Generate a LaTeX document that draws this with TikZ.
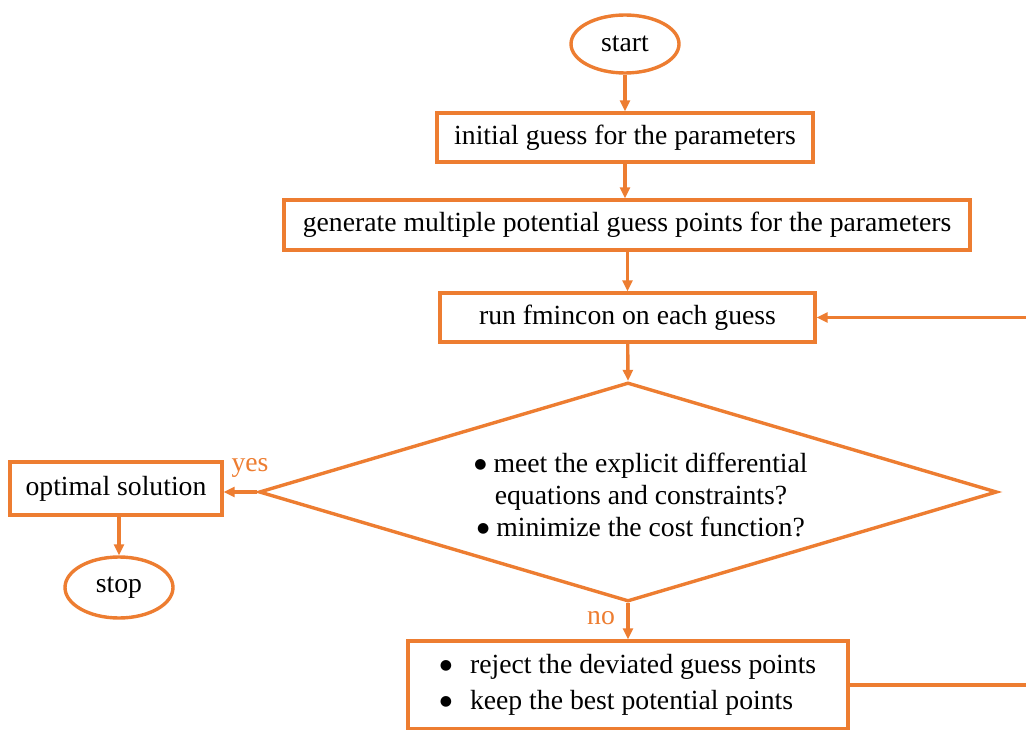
\documentclass[tikz,border=0pt]{standalone}
\usepackage{fontspec}
\setmainfont{Liberation Serif}
\newfontfamily\symfont{DejaVu Sans}
\usetikzlibrary{shapes.geometric,arrows.meta}
\definecolor{flow}{RGB}{237,125,49}
% large round bullet for list items
\newcommand{\bigdot}{\raisebox{4.5pt}{\symfont\fontsize{14}{14}\selectfont ●}}
\begin{document}
\begin{tikzpicture}[x=1pt,y=-1pt,
  every node/.style={font=\fontsize{27.7}{32}\selectfont},
  box/.style={draw=flow, line width=3.4pt, rectangle, inner sep=0pt},
  term/.style={draw=flow, line width=3.4pt, ellipse, inner sep=0pt},
  decision/.style={draw=flow, line width=3.4pt, diamond, inner sep=0pt, aspect=3.37},
  link/.style={draw=flow, line width=3.4pt, -{Triangle[length=11pt,width=10pt]}},
  lbl/.style={text=flow}]
\useasboundingbox (0,0) rectangle (1026,730);

% main column
\node[term, minimum width=108pt, minimum height=58pt] (start) at (625,44) {start};
\node[box, minimum width=376pt, minimum height=49pt] (init) at (625,137.5) {initial guess for the parameters};
\node[box, minimum width=686pt, minimum height=50pt] (gen) at (627,225) {generate multiple potential guess points for the parameters};
\node[box, minimum width=375pt, minimum height=49pt] (fmin) at (627.5,317.5) {run fmincon on each guess};
\node[decision, minimum width=738pt, minimum height=219pt] (check) at (628,492) {};
\node[align=center] (crit) at (641,495) {\bigdot\ meet the explicit differential\\equations and constraints?\\\bigdot\ minimize the cost function?};
\node[box, minimum width=440pt, minimum height=88pt, align=left, font=\fontsize{27.7}{36}\selectfont] (reject) at (628,685)
  {\bigdot\hspace{18pt}reject the deviated guess points\\\bigdot\hspace{18pt}keep the best potential points};

% exit branch
\node[box, minimum width=212pt, minimum height=53pt] (opt) at (116,488.5) {optimal solution};
\node[term, minimum width=108pt, minimum height=61pt] (stop) at (119,587.5) {stop};

% branch labels
\node[lbl] (yes) at (250,468) {yes};
\node[lbl] (no) at (601,618) {no};

% connectors
\draw[link] (start) -- (start |- init.north);
\draw[link] (init.south) -- (init.south |- gen.north);
\draw[link] (gen.south -| fmin.north) -- (fmin);
\draw[link] (fmin) -- (check.north);
\draw[link] (check.west) -- (check.west -| opt.east);
\draw[link] (opt.south -| stop.north) -- (stop);
\draw[link] (check.south) -- (reject.north);
\draw[link] (reject.east) -- ++(190,0) |- (fmin.east);
\end{tikzpicture}
\end{document}
